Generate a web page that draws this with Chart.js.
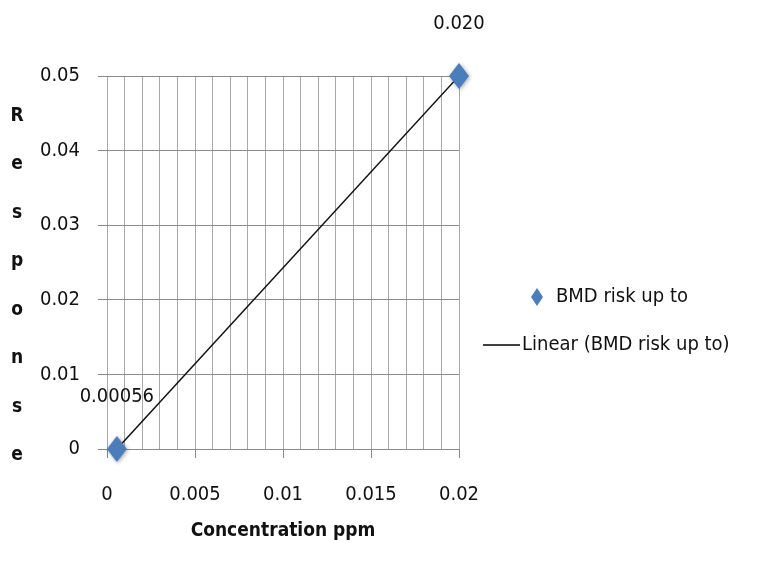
<!DOCTYPE html>
<html>
<head>
<meta charset="utf-8">
<script src="https://cdn.jsdelivr.net/npm/chart.js@4.4.1/dist/chart.umd.min.js"></script>
<style>
  body { margin: 0; background: #fff; }
  #wrap { width: 780px; height: 563px; }
</style>
</head>
<body>
<div id="wrap"><canvas id="myChart" width="780" height="563"></canvas></div>
<script>
var ctx1 = document.getElementById('myChart');

// data
const xValues = [0.00056, 0.020];
const yValues = [0, 0.05];
const pointLabels = ['0.00056', '0.020'];
const xTickLabels = ['0', '0.005', '0.01', '0.015', '0.02'];
const yTickLabels = ['0', '0.01', '0.02', '0.03', '0.04', '0.05'];
const seriesName = 'BMD risk up to';
const trendName = 'Linear (BMD risk up to)';
const xTitle = 'Concentration ppm';
const yTitle = 'Response';

const FONT = "'DejaVu Sans Condensed', 'Liberation Sans', sans-serif";
const BLUE = '#4a7ebb';

var points = xValues.map(function (x, i) { return { x: x, y: yValues[i] }; });

// tall diamond marker, like the Excel one
function makeDiamond(w, h, blur) {
  var c = document.createElement('canvas');
  c.width = w + 8;
  c.height = h + 8;
  var g = c.getContext('2d');
  g.shadowColor = 'rgba(0,0,0,0.35)';
  g.shadowBlur = blur;
  g.shadowOffsetX = 1;
  g.shadowOffsetY = 1;
  g.fillStyle = BLUE;
  var cx = c.width / 2, cy = c.height / 2;
  g.beginPath();
  g.moveTo(cx, cy - h / 2);
  g.lineTo(cx + w / 2, cy);
  g.lineTo(cx, cy + h / 2);
  g.lineTo(cx - w / 2, cy);
  g.closePath();
  g.fill();
  return c;
}
var bigDiamond = makeDiamond(20, 26, 4);

const extras = {
  id: 'extras',
  afterDraw(chart) {
    const { ctx } = chart;
    ctx.save();
    ctx.fillStyle = '#111';

    // point labels
    ctx.font = '20px ' + FONT;
    ctx.textAlign = 'center';
    ctx.textBaseline = 'middle';
    const meta = chart.getDatasetMeta(0);
    meta.data.forEach(function (pt, i) {
      ctx.fillText(pointLabels[i], pt.x, pt.y - 52);
    });

    // x axis title
    ctx.font = 'bold 19px ' + FONT;
    ctx.fillText(xTitle, 283, 531);

    // y axis title, stacked letters
    yTitle.split('').forEach(function (ch, i) {
      ctx.fillText(ch, 17, 116 + i * 48.5);
    });

    // legend
    ctx.font = '20px ' + FONT;
    ctx.textAlign = 'left';
    ctx.fillStyle = BLUE;
    ctx.beginPath();
    ctx.moveTo(537, 288);
    ctx.lineTo(543, 297);
    ctx.lineTo(537, 306);
    ctx.lineTo(531, 297);
    ctx.closePath();
    ctx.fill();
    ctx.fillStyle = '#111';
    ctx.fillText(seriesName, 556, 297);

    ctx.strokeStyle = '#000';
    ctx.lineWidth = 1.5;
    ctx.beginPath();
    ctx.moveTo(483, 345);
    ctx.lineTo(520, 345);
    ctx.stroke();
    ctx.fillText(trendName, 522, 345);
    ctx.restore();
  }
};

var myChart = new Chart(ctx1, {
  type: 'scatter',
  data: {
    datasets: [{
      label: seriesName,
      data: points,
      pointStyle: bigDiamond,
      pointRadius: 10,
      pointHoverRadius: 10,
      backgroundColor: BLUE,
      borderColor: BLUE,
      borderWidth: 0,
      clip: false,
      order: 0
    }, {
      label: trendName,
      type: 'line',
      data: points,
      showLine: true,
      pointRadius: 0,
      borderColor: '#111',
      borderWidth: 1.5,
      fill: false,
      order: 1
    }]
  },
  options: {
    responsive: false,
    animation: false,
    devicePixelRatio: 1,
    layout: { padding: { left: 40, top: 76, right: 321, bottom: 0 } },
    plugins: {
      legend: { display: false },
      tooltip: { enabled: false },
      title: { display: false }
    },
    scales: {
      x: {
        type: 'linear',
        min: 0,
        max: 0.02,
        afterFit: function (s) { s.height = 114; },
        border: { display: false },
        grid: {
          color: '#a8a8a8',
          lineWidth: 1,
          tickLength: 9,
          tickColor: function (c) { return c.index % 5 === 0 ? '#8a8a8a' : 'rgba(0,0,0,0)'; }
        },
        ticks: {
          stepSize: 0.001,
          autoSkip: false,
          maxRotation: 0,
          padding: 25,
          color: '#111',
          font: { family: FONT, size: 20 },
          callback: function (v, i) { return i % 5 === 0 ? xTickLabels[i / 5] : ''; }
        }
      },
      y: {
        type: 'linear',
        min: 0,
        max: 0.05,
        afterFit: function (s) { s.width = 67; },
        border: { display: false },
        grid: {
          color: '#8a8a8a',
          lineWidth: 1,
          tickLength: 9,
          tickColor: '#8a8a8a'
        },
        ticks: {
          stepSize: 0.01,
          padding: 18,
          color: '#111',
          font: { family: FONT, size: 20 },
          callback: function (v, i) { return yTickLabels[i]; }
        }
      }
    }
  },
  plugins: [extras]
});
</script>
</body>
</html>
